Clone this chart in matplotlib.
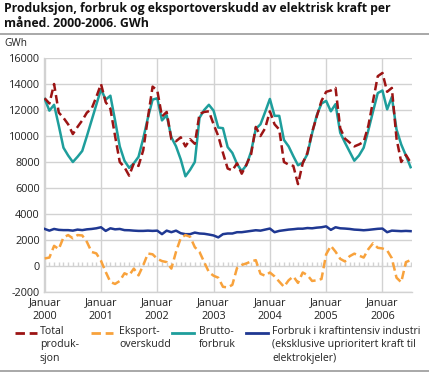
import numpy as np
import matplotlib
matplotlib.use("Agg")
import matplotlib.pyplot as plt
from matplotlib.lines import Line2D

# ---------------- data (monthly, Jan 2000 - Jul 2006, GWh) ----------------
total_produksjon = [
    12900, 12500, 14000, 11800, 11400, 10900, 10150, 10700, 11200, 11800, 12100, 13000,
    14000, 12600, 12100, 10000, 8000, 7600, 6950, 7900, 7700, 8900, 11400, 13800,
    13500, 11500, 11850, 9750, 9600, 9900, 9200, 9750, 9400, 11700, 11850, 11900,
    10900, 10000, 8700, 7500, 7350, 7900, 7100, 7800, 8600, 10700, 10000, 10600,
    11900, 10900, 10500, 8000, 7800, 7700, 6300, 7900, 8700, 10300, 11500, 12700,
    13400, 13500, 13700, 10600, 9800, 9500, 9200, 9350, 9550, 10800, 12700, 14600,
    14850, 13400, 13700, 9800, 8000, 8550, 7950,
]
eksportoverskudd = [
    580, 650, 1550, 1300, 2200, 2380, 2130, 2380, 2350, 1850, 1080, 970,
    400, -450, -1230, -1380, -1150, -560, -720, -200, -720, 50, 960, 900,
    550, 380, 300, -200, 1100, 2150, 2380, 2250, 1450, 1080, 300, -470,
    -750, -900, -1600, -1650, -1450, -150, 80, 200, 350, 450, -600, -750,
    -500, -800, -1200, -1600, -1100, -800, -1300, -500, -700, -1150, -1100, -1000,
    900, 1550, 1100, 550, 350, 750, 950, 800, 650, 1300, 1750, 1400,
    1350, 1200, 600, -900, -1250, 300, 450,
]
bruttoforbruk = [
    12850, 11950, 12400, 10800, 9100, 8500, 8000, 8400, 8850, 10000, 11200, 12400,
    13600, 12800, 13100, 11200, 9200, 8100, 7550, 7900, 8400, 9800, 11400, 12800,
    12900, 11200, 11600, 9900, 9200, 8200, 6900, 7400, 8000, 11400, 12000, 12400,
    11950, 10650, 10600, 9150, 8700, 7850, 7300, 7750, 8800, 10550, 10900, 11850,
    12850, 11550, 11550, 9700, 9200, 8450, 7750, 7950, 8600, 10200, 11600, 12500,
    12700, 11900, 12450, 10250, 9500, 8800, 8100, 8500, 9100, 10450, 11900, 13300,
    13500, 12050, 13000, 10500, 9350, 8500, 7600,
]
kraftintensiv = [
    2850, 2720, 2850, 2780, 2760, 2760, 2720, 2800, 2760, 2820, 2850, 2900,
    2980, 2700, 2900, 2820, 2850, 2760, 2750, 2720, 2700, 2700, 2720, 2700,
    2720, 2450, 2720, 2600, 2720, 2520, 2450, 2450, 2570, 2500, 2480, 2420,
    2350, 2200, 2450, 2500, 2500, 2600, 2600, 2650, 2700, 2750, 2720, 2800,
    2880, 2600, 2700, 2750, 2800, 2830, 2870, 2870, 2920, 2900, 2950, 2980,
    3050, 2780, 2980, 2900, 2880, 2850, 2800, 2780, 2750, 2780, 2820, 2860,
    2880, 2600, 2720, 2700, 2680, 2700, 2680,
]
years = ["2000", "2001", "2002", "2003", "2004", "2005", "2006"]
yticks = [-2000, 0, 2000, 4000, 6000, 8000, 10000, 12000, 14000, 16000]
title = "Produksjon, forbruk og eksportoverskudd av elektrisk kraft per\nmåned. 2000-2006. GWh"
legend_labels = ["Total\nproduk-\nsjon", "Eksport-\noverskudd", "Brutto-\nforbruk",
                 "Forbruk i kraftintensiv industri\n(eksklusive uprioritert kraft til\nelektrokjeler)"]

# ---------------- style ----------------
FONT = ["Open Sans", "DejaVu Sans"]
plt.rcParams["font.family"] = FONT
RED = "#9c1414"
ORANGE = "#f8a23c"
TEAL = "#1e9e9c"
BLUE = "#1f3892"
GRID = "#d2d2d2"
TXT = "#222222"

W, H = 429, 373
fig = plt.figure(figsize=(W / 100, H / 100), dpi=100)
ax = fig.add_axes([44 / W, 1 - 292 / H, (412 - 44) / W, (292 - 58) / H])

months = np.arange(len(total_produksjon))
lw = 1.8
ax.plot(months, total_produksjon, color=RED, lw=lw, dashes=(3.4, 1.7), zorder=4)
ax.plot(months, eksportoverskudd, color=ORANGE, lw=lw, dashes=(3.4, 1.7), zorder=4)
ax.plot(months, bruttoforbruk, color=TEAL, lw=lw, zorder=3)
ax.plot(months, kraftintensiv, color=BLUE, lw=lw, zorder=3)

ax.set_xlim(-0.15, 78.3)
ax.set_ylim(-2000, 16000)
jan = np.arange(0, len(total_produksjon), 12)
ax.set_xticks(jan)
ax.set_xticklabels([f"Januar\n{y}" for y in years], fontsize=7.8, color=TXT, linespacing=1.3)
ax.set_yticks(yticks)
ax.set_yticklabels([str(v) for v in yticks], fontsize=7.8, color=TXT)
ax.tick_params(axis="both", length=0, pad=3)
ax.tick_params(axis="x", pad=4)
ax.grid(True, color=GRID, lw=1.0, zorder=0)
for s in ["top", "right"]:
    ax.spines[s].set_visible(False)
for s in ["left", "bottom"]:
    ax.spines[s].set_color(GRID)
    ax.spines[s].set_linewidth(1.0)
# monthly tick marks on the zero line
ax.vlines(months, 0, 280, color=GRID, lw=1.0, zorder=1)

# ---------------- texts ----------------
fig.text(4 / W, 1 - 2 / H, title, fontsize=8.85, fontweight="bold", va="top", ha="left",
         color="#111111", linespacing=1.2)
fig.add_artist(Line2D([0, 1], [1 - 33.5 / H, 1 - 33.5 / H], color="#999999", lw=1.2))
fig.add_artist(Line2D([0, 1], [1 - 370.5 / H, 1 - 370.5 / H], color="#999999", lw=1.2))
fig.text(4 / W, 1 - 44 / H, "GWh", fontsize=7.3, va="center", ha="left", color=TXT)

# ---------------- legend ----------------
items = [
    (RED, True, 15, 40),
    (ORANGE, True, 91, 119),
    (TEAL, False, 172, 199),
    (BLUE, False, 246, 272),
]
ly = 1 - 333 / H
for (c, dashed, x0, tx), lab in zip(items, legend_labels):
    ln = Line2D([x0 / W, (x0 + 22) / W], [ly, ly], color=c, lw=2.0)
    if dashed:
        ln.set_dashes((3.4, 1.7))
    fig.add_artist(ln)
    fig.text(tx / W, 1 - 326 / H, lab, fontsize=7.6, va="top", ha="left", color=TXT,
             linespacing=1.3)

fig.savefig("out.png", dpi=100)
